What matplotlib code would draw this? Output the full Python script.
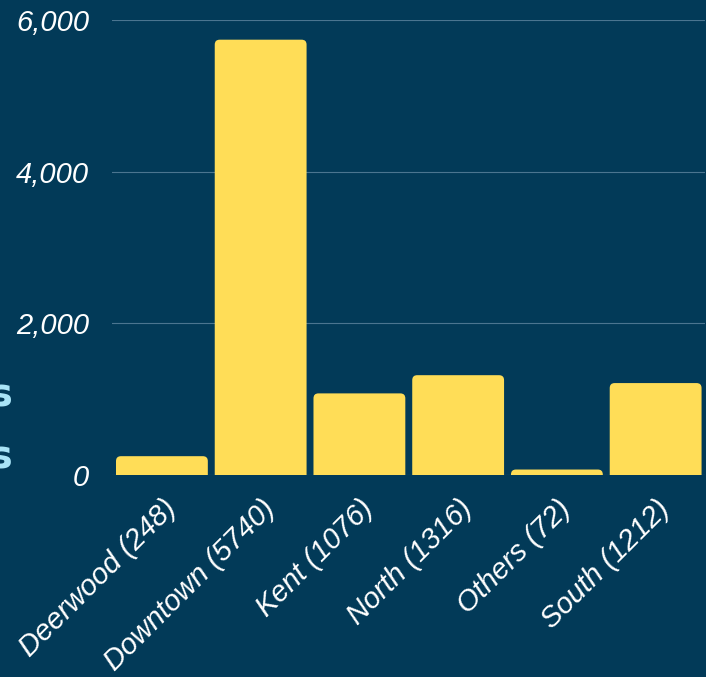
import matplotlib.pyplot as plt
from matplotlib.patches import FancyBboxPatch
from matplotlib.ticker import FuncFormatter

areas = ["Deerwood", "Downtown", "Kent", "North", "Others", "South"]
counts = [248, 5740, 1076, 1316, 72, 1212]
labels = [f"{a} ({c})" for a, c in zip(areas, counts)]

BG = "#023a58"
BAR = "#ffdd57"
GRID = "#4b7590"

plt.rcParams['font.family'] = ['Liberation Sans', 'DejaVu Sans']

fig = plt.figure(figsize=(7.06, 6.77), dpi=100, facecolor=BG)
ax = fig.add_axes([0.158, 0.2984, 0.8406, 0.6721], facecolor=BG)

x = range(len(areas))
bars = ax.bar(x, counts, width=0.93, color=BAR)

ax.set_xlim(-0.51, 5.5)
ax.set_ylim(0, 6000)

# swap plain rectangles for ones with rounded tops (bottom pushed below 0 and clipped)
aspect = (6000 / 455) / (6.0 / 592)
for b in bars:
    x0, w, h = b.get_x(), b.get_width(), b.get_height()
    r = 0.05
    p = FancyBboxPatch((x0, -r * aspect * 2), w, h + r * aspect * 2,
                       boxstyle=f"round,pad=0,rounding_size={r}",
                       mutation_aspect=aspect, facecolor=BAR, edgecolor="none",
                       zorder=2)
    ax.add_patch(p)
    b.remove()

ax.set_yticks([0, 2000, 4000, 6000])
ax.yaxis.set_major_formatter(FuncFormatter(lambda v, p: f"{int(v):,}"))
ax.grid(axis="y", color=GRID, linewidth=0.8)
ax.set_axisbelow(True)
for s in ax.spines.values():
    s.set_visible(False)

ax.tick_params(axis="y", length=0, pad=16, labelsize=21, labelcolor="white")
ax.tick_params(axis="x", length=0, pad=14, labelsize=21, labelcolor="white")
for t in ax.get_yticklabels():
    t.set_fontstyle("italic")

ax.set_xticks(list(x))
ax.set_xticklabels(labels, rotation=45, ha="right", va="top",
                   rotation_mode="anchor", fontstyle="italic")

# axis title mostly outside the canvas, only the line ends show
fig.text(0.019, 0.372, "Business\nLicenses", ha="right", va="center",
         multialignment="right", fontsize=28, fontweight="bold",
         color="#a9e4f7", linespacing=1.8, family="DejaVu Sans")

fig.savefig("out.png", dpi=100, facecolor=BG)
